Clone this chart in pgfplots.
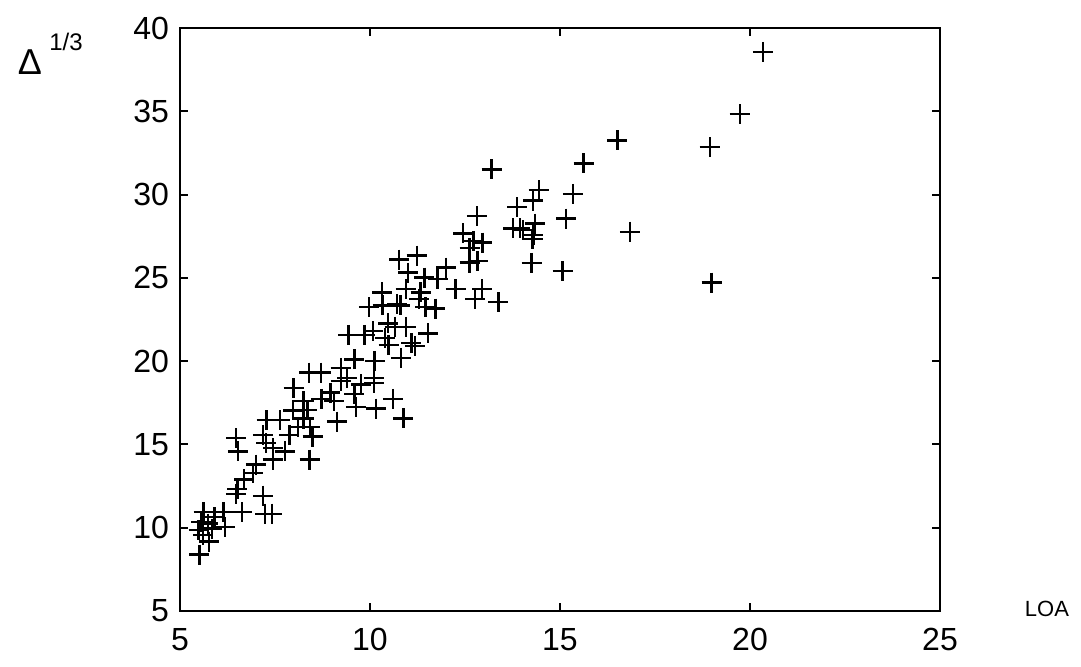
\documentclass[border=0pt]{standalone}
\usepackage{pgfplots}
\pgfplotsset{compat=1.18}
\usepackage{fontspec}
\setmainfont{Liberation Sans}

\begin{document}
\begin{tikzpicture}
\begin{axis}[
  scale only axis,
  width=380pt, height=291.5pt,
  xmin=5, xmax=25, ymin=5, ymax=40,
  xtick={5,10,15,20,25}, ytick={5,10,...,40},
  axis line style={line width=1.2pt},
  major tick style={line width=1pt, black},
  major tick length=4pt,
  tick label style={font=\fontsize{16}{19}\selectfont},
  yticklabel style={xshift=-2pt},
  xticklabel style={yshift=-5pt},
  /pgf/number format/assume math mode=true,
]
\addplot[only marks, mark=+, mark size=5pt, line width=1.2pt, black]
  coordinates {
  (20.34,38.56) (19.73,34.82) (16.51,33.25) (18.94,32.84) (16.84,27.77)
  (18.99,24.72) (15.62,31.87) (14.44,30.27) (14.29,29.64) (15.34,30.04)
  (15.16,28.56) (14.34,28.26) (13.95,27.97) (14.30,27.58) (14.28,27.32)
  (14.25,25.90) (15.07,25.41) (13.87,29.25) (13.20,31.51) (12.81,28.70)
  (13.77,27.97) (14.03,27.87) (12.45,27.67) (12.72,27.22) (12.96,27.12)
  (12.83,26.02) (12.62,25.92) (10.77,26.10) (11.23,26.34) (12.00,25.61)
  (11.00,25.31) (11.43,25.02) (11.78,24.92) (12.25,24.33) (12.95,24.33)
  (12.77,23.74) (13.38,23.54) (10.32,24.13) (10.80,23.35) (11.29,23.74)
  (11.72,23.15) (10.33,23.35) (12.62,26.79) (10.94,24.33) (11.33,24.13)
  (9.97,23.24) (10.71,23.44) (11.46,23.24) (9.43,21.57) (9.86,21.57)
  (10.48,22.26) (10.65,22.06) (10.95,22.06) (11.53,21.67) (11.09,21.08)
  (10.49,20.98) (10.82,20.20) (10.12,20.00) (9.59,20.10) (9.23,19.60)
  (10.40,21.38) (10.08,21.80) (11.18,20.90) (8.40,19.31) (8.71,19.31)
  (10.10,19.00) (9.40,19.00) (9.23,18.81) (9.76,18.60) (10.11,18.70)
  (8.96,18.11) (9.06,17.60) (9.59,18.03) (9.63,17.25) (10.15,17.15)
  (10.60,17.74) (10.88,16.56) (8.35,17.05) (7.99,18.37) (9.13,16.37)
  (8.25,17.60) (8.72,17.74) (7.28,16.45) (7.63,16.45) (7.98,17.04)
  (8.25,16.55) (8.11,16.06) (8.42,16.06) (8.49,15.47) (7.88,15.57)
  (7.18,15.57) (6.48,15.37) (6.52,14.58) (7.27,15.08) (7.45,14.78)
  (7.76,14.58) (8.41,14.09) (7.44,14.09) (7.00,13.79) (6.92,13.30)
  (6.69,12.90) (6.51,12.31) (6.47,12.02) (7.18,11.92) (7.24,10.84)
  (7.42,10.84) (6.63,10.94) (6.15,10.94) (5.62,10.94) (5.56,10.35)
  (5.91,10.64) (5.49,9.86) (5.84,9.95) (6.19,10.05) (5.60,9.56)
  (5.77,9.17) (5.51,8.38) (5.74,10.25)
  };
\end{axis}
% y label (Delta^{1/3}) and x label (LOA)
\node[font=\fontsize{18}{21}\selectfont] at ([shift={(-75pt,-17pt)}]current axis.north west) {Δ};
\node[font=\fontsize{12}{14}\selectfont] at ([shift={(-57pt,-7pt)}]current axis.north west) {1/3};
\node[font=\fontsize{11}{13}\selectfont] at ([shift={(53.5pt,1pt)}]current axis.south east) {LOA};
\path ([shift={(-90pt,-28pt)}]current axis.south west) rectangle ([shift={(70.5pt,14pt)}]current axis.north east);
\end{tikzpicture}
\end{document}
